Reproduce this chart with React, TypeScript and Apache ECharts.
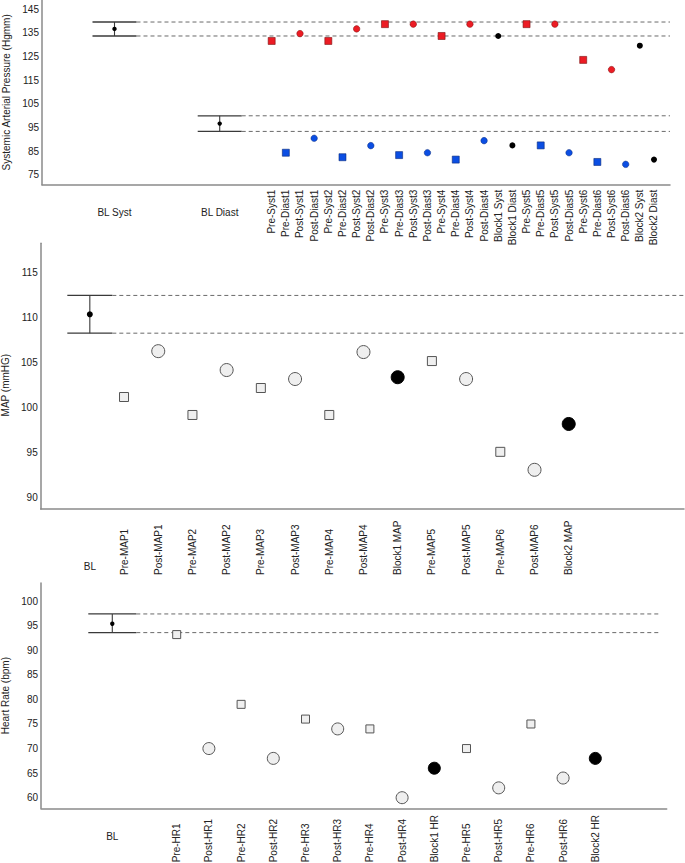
import React, { useEffect, useRef } from 'react';
import * as echarts from 'echarts';

// ---------- Data ----------
const bpCategories = [
  'Pre-Syst1', 'Pre-Diast1', 'Post-Syst1', 'Post-Diast1',
  'Pre-Syst2', 'Pre-Diast2', 'Post-Syst2', 'Post-Diast2',
  'Pre-Syst3', 'Pre-Diast3', 'Post-Syst3', 'Post-Diast3',
  'Pre-Syst4', 'Pre-Diast4', 'Post-Syst4', 'Post-Diast4',
  'Block1 Syst', 'Block1 Diast',
  'Pre-Syst5', 'Pre-Diast5', 'Post-Syst5', 'Post-Diast5',
  'Pre-Syst6', 'Pre-Diast6', 'Post-Syst6', 'Post-Diast6',
  'Block2 Syst', 'Block2 Diast',
];
const bpValues = [
  131.6, 84.4, 134.7, 90.5,
  131.6, 82.5, 136.7, 87.4,
  138.7, 83.4, 138.7, 84.4,
  133.7, 81.5, 138.7, 89.5,
  133.7, 87.5,
  138.7, 87.5, 138.7, 84.4,
  123.6, 80.5, 119.5, 79.5,
  129.6, 81.5,
];
const bpBaseline = ['BL Syst', 'BL Diast'];
const bpBaselineMean = [136.7, 96.7];
const bpBaselineLow = [133.7, 93.4];
const bpBaselineHigh = [139.6, 100.0];
const bpTicks = [75, 85, 95, 105, 115, 125, 135, 145];

const mapCategories = [
  'Pre-MAP1', 'Post-MAP1', 'Pre-MAP2', 'Post-MAP2', 'Pre-MAP3', 'Post-MAP3',
  'Pre-MAP4', 'Post-MAP4', 'Block1 MAP', 'Pre-MAP5', 'Post-MAP5', 'Pre-MAP6',
  'Post-MAP6', 'Block2 MAP',
];
const mapValues = [101.2, 106.3, 99.2, 104.2, 102.2, 103.2, 99.2, 106.2, 103.4, 105.2, 103.2, 95.1, 93.1, 98.2];
const mapBaseline = ['BL'];
const mapBaselineMean = [110.4];
const mapBaselineLow = [108.3];
const mapBaselineHigh = [112.5];
const mapTicks = [90, 95, 100, 105, 110, 115];

const hrCategories = [
  'Pre-HR1', 'Post-HR1', 'Pre-HR2', 'Post-HR2', 'Pre-HR3', 'Post-HR3',
  'Pre-HR4', 'Post-HR4', 'Block1 HR', 'Pre-HR5', 'Post-HR5', 'Pre-HR6',
  'Post-HR6', 'Block2 HR',
];
const hrValues = [93.2, 70, 79, 68, 76, 74, 74, 60, 66, 70, 62, 75, 64, 68];
const hrBaseline = ['BL'];
const hrBaselineMean = [95.4];
const hrBaselineLow = [93.6];
const hrBaselineHigh = [97.4];
const hrTicks = [60, 65, 70, 75, 80, 85, 90, 95, 100];

// ---------- Layout (axis slot positions, not data) ----------
const FONT = '"Liberation Sans", Arial, Helvetica, sans-serif';
const AXIS_COLOR = '#8a8a8a';
const TEXT_COLOR = '#222';

type PanelCfg = {
  cats: string[];
  vals: number[];
  bl: string[];
  blMean: number[];
  blLow: number[];
  blHigh: number[];
  blSlots: number[];
  ticks: number[];
  grid: { left: number; top: number; width: number; height: number };
  xMin: number;
  xMax: number;
  yMin: number;
  yMax: number;
  title: string;
  titleGap: number;
  titlePad: number[];
  catMargin: number;
  catAlign: string;
  blMargin: number;
  capHalf: number;
  meanR: number;
  dashEnd: number | null;
  style: (name: string) => any;
};

const bpStyle = (name: string) => {
  const red = '#ec1c24';
  const blue = '#0b4ee3';
  if (name.startsWith('Block')) return { symbol: 'circle', symbolSize: 6, itemStyle: { color: '#000', opacity: 1 } };
  const isSyst = name.includes('Syst');
  const color = isSyst ? red : blue;
  const border = isSyst ? '#7a1010' : '#0a2a7a';
  if (name.startsWith('Pre')) return { symbol: 'rect', symbolSize: 7, itemStyle: { color, borderColor: border, borderWidth: 0.6, opacity: 1 } };
  return { symbol: 'circle', symbolSize: 6.5, itemStyle: { color, borderColor: border, borderWidth: 0.5, opacity: 1 } };
};

const hollowStyle = (sq: number, ci: number) => (name: string) => {
  if (name.startsWith('Block')) return { symbol: 'circle', symbolSize: ci, itemStyle: { color: '#000', borderColor: '#000', borderWidth: 1, opacity: 1 } };
  if (name.startsWith('Pre')) return { symbol: 'rect', symbolSize: sq, itemStyle: { color: '#efefef', borderColor: '#555', borderWidth: 1, opacity: 1 } };
  return { symbol: 'circle', symbolSize: ci, itemStyle: { color: '#efefef', borderColor: '#555', borderWidth: 1, opacity: 1 } };
};

const panels: PanelCfg[] = [
  {
    cats: bpCategories, vals: bpValues, bl: bpBaseline, blMean: bpBaselineMean, blLow: bpBaselineLow, blHigh: bpBaselineHigh,
    blSlots: [-11.1, -3.67], ticks: bpTicks,
    grid: { left: 42, top: 0, width: 628, height: 184.7 },
    xMin: -16.22, xMax: 28.13, yMin: 70.9, yMax: 148.9,
    title: 'Systemic Arterial Pressure (Hgmm)', titleGap: 31, titlePad: [0, 0, 0, 0],
    catMargin: 5, catAlign: 'right', blMargin: 23, capHalf: 22, meanR: 2.2, dashEnd: null,
    style: bpStyle,
  },
  {
    cats: mapCategories, vals: mapValues, bl: mapBaseline, blMean: mapBaselineMean, blLow: mapBaselineLow, blHigh: mapBaselineHigh,
    blSlots: [-1], ticks: mapTicks,
    grid: { left: 40.7, top: 243.3, width: 643.3, height: 265.7 },
    xMin: -2.436, xMax: 16.37, yMin: 88.74, yMax: 118.3,
    title: 'MAP (mmHG)', titleGap: 27, titlePad: [0, 18, 0, 0],
    catMargin: 66, catAlign: 'left', blMargin: 52, capHalf: 22.5, meanR: 3, dashEnd: null,
    style: hollowStyle(9, 13),
  },
  {
    cats: hrCategories, vals: hrValues, bl: hrBaseline, blMean: hrBaselineMean, blLow: hrBaselineLow, blHigh: hrBaselineHigh,
    blSlots: [-2], ticks: hrTicks,
    grid: { left: 41, top: 583, width: 625.7, height: 225.3 },
    xMin: -4.214, xMax: 15.217, yMin: 57.84, yMax: 103.7,
    title: 'Heart Rate (bpm)', titleGap: 28, titlePad: [0, 0, 0, 0],
    catMargin: 54, catAlign: 'left', blMargin: 23.5, capHalf: 24, meanR: 2.2, dashEnd: 15.0,
    style: hollowStyle(8, 12),
  },
];

function buildOption() {
  const grid: any[] = [];
  const xAxis: any[] = [];
  const yAxis: any[] = [];
  const series: any[] = [];

  panels.forEach((p, gi) => {
    grid.push({ ...p.grid, containLabel: false, outerBoundsMode: 'none' });
    const catIdx = p.cats.map((_, i) => i);
    xAxis.push({
      type: 'value', gridIndex: gi, position: 'bottom', min: p.xMin, max: p.xMax,
      axisLine: { show: true, onZero: false, lineStyle: { color: AXIS_COLOR, width: 1.5 } },
      axisTick: { show: false },
      splitLine: { show: false },
      axisLabel: {
        customValues: catIdx,
        formatter: (v: number) => p.cats[Math.round(v)] ?? '',
        rotate: 90, margin: p.catMargin, align: p.catAlign,
        fontSize: 10, color: TEXT_COLOR, fontFamily: FONT,
      },
    });
    xAxis.push({
      type: 'value', gridIndex: gi, position: 'bottom', offset: 0, min: p.xMin, max: p.xMax,
      axisLine: { show: false, onZero: false },
      axisTick: { show: false },
      splitLine: { show: false },
      axisLabel: {
        customValues: p.blSlots,
        formatter: (v: number) => {
          const k = p.blSlots.findIndex((s) => Math.abs(s - v) < 1e-6);
          return k >= 0 ? p.bl[k] : '';
        },
        rotate: 0, margin: p.blMargin,
        fontSize: 10, color: TEXT_COLOR, fontFamily: FONT,
      },
    });
    yAxis.push({
      type: 'value', gridIndex: gi, position: 'left', min: p.yMin, max: p.yMax,
      axisLine: { show: true, onZero: false, lineStyle: { color: AXIS_COLOR, width: 1.5 } },
      axisTick: { show: false },
      splitLine: { show: false },
      axisLabel: {
        customValues: p.ticks, margin: 3,
        fontSize: 10, color: TEXT_COLOR, fontFamily: FONT,
      },
      name: p.title, nameLocation: 'middle', nameRotate: 90, nameGap: p.titleGap,
      nameTextStyle: { fontSize: 10, color: TEXT_COLOR, fontFamily: FONT, padding: p.titlePad },
    });

    const xi = gi * 2;
    // baseline error bars with reference lines
    series.push({
      type: 'custom', xAxisIndex: xi, yAxisIndex: gi, clip: false, silent: true,
      data: p.blSlots.map((s, i) => [s, p.blMean[i], p.blLow[i], p.blHigh[i]]),
      renderItem: (params: any, api: any) => {
        const x = api.value(0);
        const pm = api.coord([x, api.value(1)]);
        const pl = api.coord([x, api.value(2)]);
        const ph = api.coord([x, api.value(3)]);
        const cs = params.coordSys;
        const right = p.dashEnd != null ? api.coord([p.dashEnd, api.value(1)])[0] : cs.x + cs.width;
        const cl = pm[0] - p.capHalf;
        const cr = pm[0] + p.capHalf;
        const capStyle = { stroke: '#3a3a3a', lineWidth: 1.3 };
        const dashStyle = { stroke: '#6a6a6a', lineWidth: 1, lineDash: [4, 3] };
        return {
          type: 'group',
          children: [
            { type: 'line', shape: { x1: pm[0], y1: ph[1], x2: pm[0], y2: pl[1] }, style: { stroke: '#3a3a3a', lineWidth: 1.1 } },
            { type: 'line', shape: { x1: cl, y1: ph[1], x2: cr, y2: ph[1] }, style: capStyle },
            { type: 'line', shape: { x1: cl, y1: pl[1], x2: cr, y2: pl[1] }, style: capStyle },
            { type: 'line', shape: { x1: cr, y1: ph[1], x2: right, y2: ph[1] }, style: dashStyle },
            { type: 'line', shape: { x1: cr, y1: pl[1], x2: right, y2: pl[1] }, style: dashStyle },
            { type: 'circle', shape: { cx: pm[0], cy: pm[1], r: p.meanR }, style: { fill: '#000' } },
          ],
        };
      },
    });
    // measurements
    series.push({
      type: 'scatter', xAxisIndex: xi, yAxisIndex: gi, silent: true,
      data: p.cats.map((name, i) => ({ name, value: [i, p.vals[i]], ...p.style(name) })),
    });
  });

  return { animation: false, grid, xAxis, yAxis, series };
}

export default function App() {
  const ref = useRef<HTMLDivElement>(null);
  useEffect(() => {
    if (!ref.current) return;
    const chart = echarts.init(ref.current, undefined, { renderer: 'svg' });
    chart.setOption(buildOption() as any);
    return () => chart.dispose();
  }, []);
  return (
    <div
      ref={ref}
      style={{ position: 'fixed', left: 0, top: 0, width: 685, height: 863, background: '#fff' }}
    />
  );
}
